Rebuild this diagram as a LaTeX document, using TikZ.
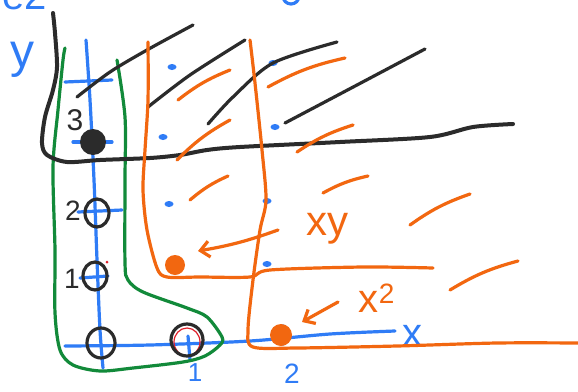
\documentclass[tikz,border=0pt]{standalone}
\usepackage{fontspec}
\setmainfont{Liberation Sans}
\usetikzlibrary{arrows.meta}
\definecolor{penblue}{HTML}{2F7CF6}
\definecolor{penorange}{HTML}{F26710}
\definecolor{pengreen}{HTML}{128A3A}
\definecolor{penblack}{HTML}{2B2B2B}
\definecolor{penred}{HTML}{E0202A}
\tikzset{
  pen/.style={line width=3.2pt,line cap=round,line join=round},
  hand/.style={font=\fontsize{#1}{#1}\selectfont,inner sep=0pt},
}

\begin{document}
\begin{tikzpicture}[x=1pt,y=-1pt]
\clip (0,0) rectangle (578,391);
\fill[white] (0,0) rectangle (578,391);
\draw[pen,penblue] plot[smooth] coordinates {(86,40) (90,100) (94,180) (97,260) (100,330) (103,368)};
\draw[pen,penblue] plot[smooth] coordinates {(65,346) (150,345) (250,341) (330,334) (395,331)};
\foreach \xa/\ya/\xb/\yb in {65/82/112/80,73/142/112/142,78/212/122/210,80/278/108/276,188/336/190/360,283/326/283/344}{
  \draw[pen,penblue] (\xa,\ya)--(\xb,\yb);
}
\foreach \x/\y in {172/67,273/63,163/137,275/127,169/204,267/201,267/264}{
  \fill[penblue] (\x,\y) ellipse (4.5 and 3);
}
\node[hand=40,penblue] (ename) at (25,-4) {e2};
\draw[pen,penblue] (291,-4) circle (8);
\node[hand=48,penblue] (ylab) at (22,60) {y};
\node[hand=40,penblue] (xlab) at (412,336) {x};
\node[hand=26,penblue] (onelab) at (195,373) {1};
\node[hand=28,penblue] (twolab) at (292,374) {2};
\draw[pen,pengreen] plot[smooth] coordinates {(65,48) (63,60) (58,110) (53,167) (55,250) (55,313) (60,350) (73,365) (100,371) (133,368) (183,362) (205,356) (220,345) (222,337) (207,317) (187,308) (143,292) (128,280) (125,263) (125,180) (125,117) (117,60)};
\draw[penblack,line width=4pt,line cap=round,line join=round] plot[smooth] coordinates {(53,13) (55,33) (57,67) (53,90) (45,117) (42,143) (47,155) (67,162) (100,160) (150,158) (180,155) (207,150) (240,147) (340,142) (430,137) (473,127) (513,124)};
\draw[pen,penblack] plot[smooth] coordinates {(77,97) (110,72) (147,50) (193,25)};
\draw[pen,penblack] plot[smooth] coordinates {(148,107) (190,75) (245,40)};
\draw[pen,penblack] plot[smooth] coordinates {(208,124) (233,97) (273,63) (337,42)};
\draw[pen,penblack] plot[smooth] coordinates {(285,123) (357,85) (425,49)};
\draw[pen,penorange] plot[smooth] coordinates {(148,42) (148,100) (145,150) (143,190) (147,230) (157,268) (167,277) (200,277) (250,277) (270,270) (363,267) (433,268)};
\draw[pen,penorange] plot[smooth] coordinates {(250,40) (255,83) (262,150) (266,200) (260,230) (253,280) (248,330) (253,347) (297,348) (397,346) (497,343) (578,343)};
\foreach \xa/\ya/\xb/\yb in {178/100/230/70,268/87/345/58,177/160/230/120,297/152/353/125,190/200/228/176,323/193/368/176,410/225/470/194,450/290/518/261}{
  \draw[pen,penorange] (\xa,\ya) to[bend left=8] (\xb,\yb);
}
\fill[penorange] (175,265) circle (10);
\fill[penorange] (281,335) circle (11);
\coordinate (xydot) at (198,251);
\coordinate (sqdot) at (302,322);
\node[hand=42,penorange] (xy) at (327,229) {xy};
\node[hand=40,penorange] (sq) at (377,298) {x\textsuperscript{2}};
\draw[pen,penorange,-{Straight Barb[length=9pt,width=16pt]}] (278,230) to[bend left=5] (xydot);
\draw[pen,penorange,-{Straight Barb[length=9pt,width=16pt]}] (338,302) -- (sqdot);
\fill[penblack] (93,142) circle (13);
\node[hand=30,penblack] (three) at (75,120) {3};
\node[hand=28,penblack] (twotick) at (73,211) {2};
\node[hand=28,penblack] (onetick) at (72,279) {1};
\draw[pen,penblack] (97,213) ellipse (12 and 14);
\draw[pen,penblack] (95,276) ellipse (12 and 14);
\draw[pen,penblack] (101,343) ellipse (14 and 15);
\draw[pen,penred,line width=1.2pt] (187,342) ellipse (13 and 14);
\draw[pen,penblack] (187,340) ellipse (16 and 16);
\fill[penred] (107,262) circle (1.5);
\end{tikzpicture}
\end{document}
